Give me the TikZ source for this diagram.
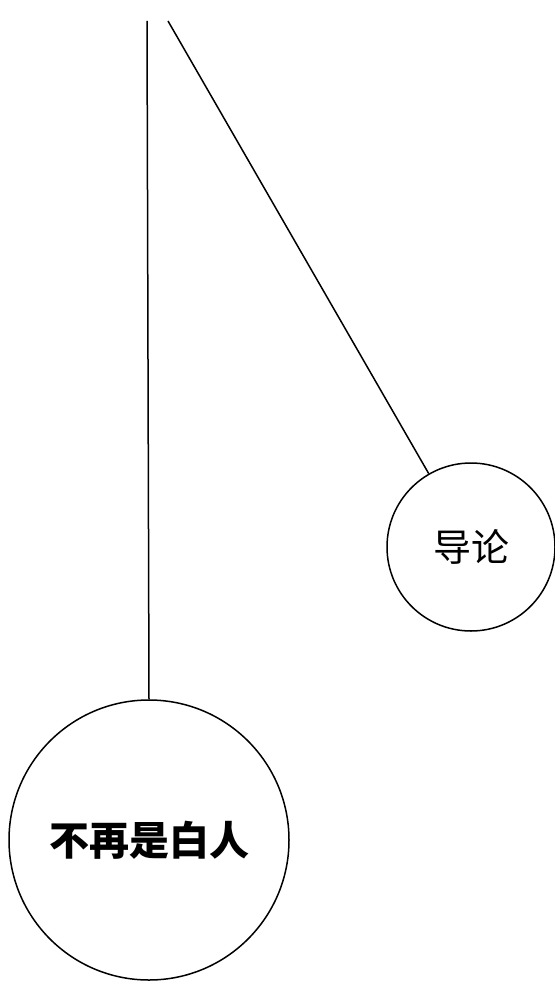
\documentclass[tikz,border=0pt]{standalone}
\usepackage{fontspec}
\newfontfamily\cjk{Noto Sans CJK SC}
\usetikzlibrary{positioning}
\tikzset{
  ring/.style={draw,circle,line width=1.5pt,inner sep=0pt,align=center},
  link/.style={draw,line width=1.5pt},
}

\begin{document}
\begin{tikzpicture}[x=1pt,y=-1pt]
\useasboundingbox (0,0) rectangle (554,981);
\node[ring,minimum size=168pt,font=\cjk\fontsize{38}{42}\selectfont] (intro) at (471,547) {导论};
\node[ring,minimum size=280pt,font=\cjk\bfseries\fontsize{40}{44}\selectfont] (white) at (149,840) {不再是白人};
\coordinate (topa) at (147,21);
\coordinate (topb) at (168,21);
\draw[link] (topa)--(white.north); \draw[link] (topb)--(intro);
\end{tikzpicture}
\end{document}
